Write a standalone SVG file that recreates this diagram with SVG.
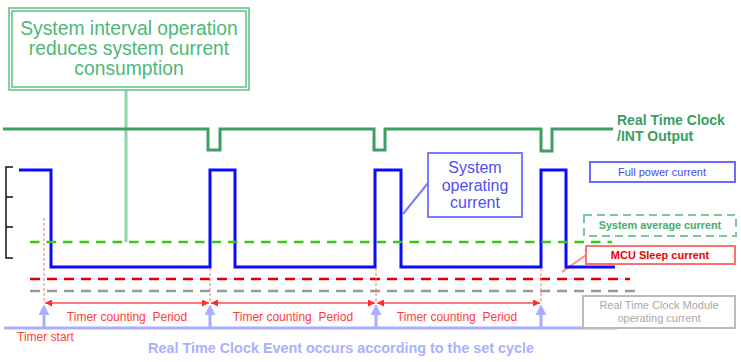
<svg xmlns="http://www.w3.org/2000/svg" width="741" height="362" viewBox="0 0 741 362">
<style>
text{font-family:"Liberation Sans",Arial,sans-serif}
.pre{white-space:pre}
.green{fill:#4cb878}
.timer{fill:#ff3b3b;font-size:12px}
.dashG{stroke:#33cc11;stroke-width:2.5;stroke-dasharray:9.5 7;fill:none}
.dashR{stroke:#e00000;stroke-width:2.5;stroke-dasharray:10 7;fill:none}
.dashK{stroke:#999999;stroke-width:2.5;stroke-dasharray:10 7;fill:none}
.vdot{stroke:#ff6f6f;stroke-width:1;stroke-dasharray:3 2;fill:none}
.tarrow{stroke:#ff4a4a;stroke-width:1.5;fill:none;marker-start:url(#rh);marker-end:url(#rh)}
.up{stroke:#a9aeff;stroke-width:3;fill:none;marker-end:url(#lh)}
</style>
<defs>
<marker id="rh" viewBox="0 0 10 10" refX="10" refY="5" markerWidth="7" markerHeight="7" markerUnits="userSpaceOnUse" orient="auto-start-reverse">
<path d="M0,0 L10,5 L0,10 z" fill="#ff2a2a"/>
</marker>
<marker id="lh" viewBox="0 0 10 10" refX="2" refY="5" markerWidth="11" markerHeight="11" markerUnits="userSpaceOnUse" orient="auto">
<path d="M0,0 L10,5 L0,10 z" fill="#a9aeff"/>
</marker>
</defs>

<g id="connectors">
<line x1="126" y1="90" x2="126" y2="242" stroke="#92d3ab" stroke-width="3"/>
<line x1="428" y1="183" x2="403" y2="214" stroke="#7b7bff" stroke-width="2"/>
<line x1="586" y1="255" x2="562" y2="272" stroke="#ff8a8a" stroke-width="2"/>
</g>

<g id="rtc-int-signal">
<polyline points="3,129 208,129 208,150 220,150 220,129 374,129 374,150 385,150 385,129 541,129 541,151 552,151 552,129 613,129" fill="none" stroke="#3d9e64" stroke-width="3"/>
</g>

<g id="current-waveform">
<polyline points="19,170 51,170 51,267 210,267 210,170 235,170 235,267 375,267 375,170 401,170 401,267 541,267 541,170 566,170 566,267 615,267" fill="none" stroke="#0a0aff" stroke-width="3"/>
</g>

<g id="scale">
<path d="M13,167 H6 V258 H13 M6,197 H13 M6,227 H13" fill="none" stroke="#111" stroke-width="1.5"/>
</g>

<g id="levels">
<line class="dashG" x1="30" y1="242" x2="612" y2="242"/>
<line class="dashR" x1="30" y1="279" x2="630" y2="279"/>
<line class="dashK" x1="30" y1="291" x2="642" y2="291"/>
</g>

<g id="timer-marks">
<line class="vdot" x1="44" y1="218" x2="44" y2="303"/>
<line class="vdot" x1="210" y1="268" x2="210" y2="303"/>
<line class="vdot" x1="376" y1="268" x2="376" y2="303"/>
<line class="vdot" x1="541" y1="268" x2="541" y2="303"/>
<line class="tarrow" x1="45" y1="303" x2="209" y2="303"/>
<line class="tarrow" x1="211" y1="303" x2="375" y2="303"/>
<line class="tarrow" x1="377" y1="303" x2="540" y2="303"/>
<text class="timer pre" x="127" y="321" text-anchor="middle">Timer counting  Period</text>
<text class="timer pre" x="293" y="321" text-anchor="middle">Timer counting  Period</text>
<text class="timer pre" x="457" y="321" text-anchor="middle">Timer counting  Period</text>
</g>

<g id="rtc-events">
<line x1="4" y1="328" x2="617" y2="328" stroke="#a9aeff" stroke-width="3"/>
<line class="up" x1="44" y1="328" x2="44" y2="313"/>
<line class="up" x1="210" y1="328" x2="210" y2="313"/>
<line class="up" x1="376" y1="328" x2="376" y2="313"/>
<line class="up" x1="541" y1="328" x2="541" y2="313"/>
<text x="17" y="341" fill="#ff3b3b" font-size="12">Timer start</text>
<text x="341" y="353" fill="#aab0ff" font-size="14.4" font-weight="bold" text-anchor="middle">Real Time Clock Event occurs according to the set cycle</text>
</g>

<g id="note-interval">
<rect x="9" y="8" width="240" height="82" fill="#fff" stroke="#5cbf85" stroke-width="1.5"/>
<rect x="12" y="11" width="234" height="76" fill="none" stroke="#5cbf85" stroke-width="1.5"/>
<text class="green" font-size="19.3" text-anchor="middle" x="129" y="35">System interval operation</text>
<text class="green" font-size="19.3" text-anchor="middle" x="129" y="55">reduces system current</text>
<text class="green" font-size="19.3" text-anchor="middle" x="129" y="75">consumption</text>
</g>

<g id="label-rtc-int">
<text x="617" y="125" fill="#3a9e62" font-size="14" font-weight="bold">Real Time Clock</text>
<text x="617" y="141" fill="#3a9e62" font-size="14" font-weight="bold">/INT Output</text>
</g>

<g id="label-full-power">
<rect x="590" y="162" width="145" height="20" fill="#fff" stroke="#6b6bff" stroke-width="2"/>
<text x="662" y="176" fill="#4848f0" font-size="11" text-anchor="middle">Full power current</text>
</g>

<g id="label-system-operating">
<rect x="428" y="153" width="94" height="64" fill="#fff" stroke="#7b7bff" stroke-width="2"/>
<text x="475" y="173" fill="#4f4ff0" font-size="16" text-anchor="middle">System</text>
<text x="475" y="191" fill="#4f4ff0" font-size="16" text-anchor="middle">operating</text>
<text x="475" y="208" fill="#4f4ff0" font-size="16" text-anchor="middle">current</text>
</g>

<g id="label-average">
<rect x="584" y="215" width="152" height="21" fill="#fff" stroke="#7cc79c" stroke-width="2" stroke-dasharray="8 5"/>
<text x="660" y="229" fill="#45ad6d" font-size="10.8" font-weight="bold" text-anchor="middle">System average current</text>
</g>

<g id="label-mcu-sleep">
<rect x="586" y="246" width="149" height="18" fill="#fff" stroke="#ff7070" stroke-width="2"/>
<text x="660" y="259" fill="#ee0000" font-size="11" font-weight="bold" text-anchor="middle">MCU Sleep current</text>
</g>

<g id="label-rtc-module">
<rect x="583" y="296" width="152" height="32" fill="#fff" stroke="#bbbbbb" stroke-width="2"/>
<text x="659" y="309" fill="#a8a8a8" font-size="11" text-anchor="middle">Real Time Clock Module</text>
<text x="659" y="322" fill="#a8a8a8" font-size="11" text-anchor="middle">operating current</text>
</g>
</svg>
